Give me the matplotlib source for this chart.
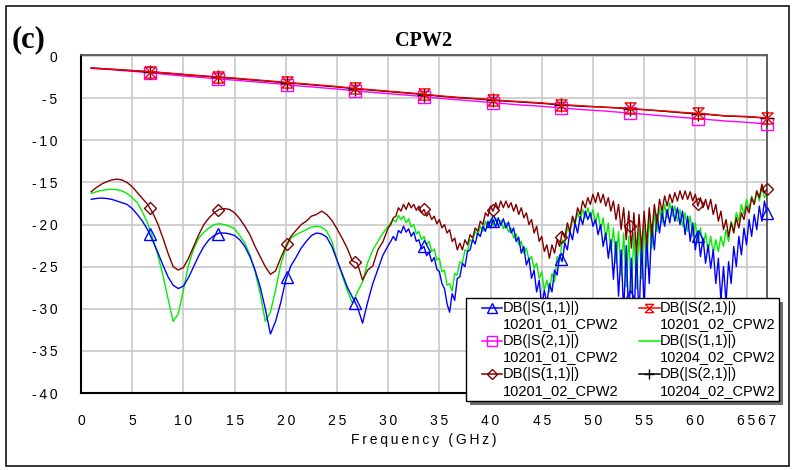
import numpy as np
import matplotlib
matplotlib.use("Agg")
import matplotlib.pyplot as plt
from matplotlib.lines import Line2D
from matplotlib.path import Path
from matplotlib.legend_handler import HandlerBase
from matplotlib.patches import Rectangle

# ---------------- data ----------------
# S11 sweep: 0.5 GHz grid up to 30 GHz, 0.25 GHz grid above (noisy part)
freq_low_ghz = np.arange(1.0, 30.01, 0.5)       # 59 points
freq_high_ghz = np.arange(30.25, 67.001, 0.25)  # 148 points

s11_10201_01_low = [
    -17.0, -16.9, -16.85, -16.9, -17.0, -17.2, -17.4, -17.6, -18.1, -18.8,
    -19.6, -20.6, -21.9, -23.3, -24.8, -26.2, -27.2, -27.6, -27.3, -26.3,
    -25.0, -23.7, -22.6, -21.8, -21.3, -21.0, -21.0, -21.1, -21.3, -21.8,
    -22.6, -23.8, -25.4, -27.4, -30.0, -33.0, -31.5, -29.3, -26.6, -24.9,
    -23.9, -22.8, -22.0, -21.3, -21.0, -21.1, -21.5, -22.6, -24.2, -25.8,
    -27.4, -28.6, -29.8, -31.7, -29.2, -27.0, -25.3, -23.6, -22.5,
]
s11_10201_01_high = [
    -22.0, -21.4, -21.9, -20.7,  -21.0, -20.2, -20.9, -20.5,
    -21.4, -20.9, -22.0, -21.8,  -22.9, -22.6, -23.7, -23.3,
    -24.4, -23.9, -25.3, -25.6,  -27.0, -27.6, -29.4, -30.4,
    -28.2, -29.0, -26.4, -26.2,  -24.6, -25.0, -23.2, -23.0,
    -21.8, -22.3, -21.0, -21.4,  -20.2, -20.8, -19.6, -20.4,
    -19.4, -20.3, -19.2, -20.1,  -19.3, -20.4, -19.7, -21.0,
    -20.4, -22.0, -21.5, -23.4,  -22.6, -24.8, -24.0, -26.4,
    -25.4, -28.0, -26.6, -29.8,  -27.8, -29.4, -27.0, -28.0,
    -25.4, -26.0, -23.6, -24.4,  -22.2, -23.0, -20.8, -21.8,
    -19.8, -21.0, -19.0, -20.0,  -18.4, -19.4, -18.6, -20.2,
    -19.4, -21.2, -20.0, -22.6,  -21.0, -24.0, -21.8, -26.5,
    -22.0, -28.5, -23.0, -30.5,  -22.5, -31.5, -24.0, -32.0,
    -23.0, -31.5, -22.0, -30.0,  -21.5, -27.0, -20.0, -23.0,
    -18.8, -21.0, -18.5, -20.2,  -18.2, -19.8, -17.8, -19.6,
    -18.0, -20.0, -18.4, -21.2,  -19.0, -22.0, -19.8, -23.0,
    -20.8, -23.8, -21.6, -24.6,  -22.4, -25.2, -23.0, -27.0,
    -24.0, -29.0, -25.0, -29.2,  -24.4, -27.0, -22.6, -25.0,
    -21.4, -23.6, -20.4, -22.4,  -19.4, -21.4, -18.8, -20.6,
    -17.8, -19.6, -17.2, -18.6,
]

s11_10204_02_low = [
    -16.3, -16.1, -15.95, -15.85, -15.8, -15.85, -16.0, -16.3, -16.8, -17.4,
    -18.5, -19.8, -21.6, -23.6, -26.0, -28.8, -31.5, -30.6, -27.8, -24.8,
    -22.9, -21.6, -20.9, -20.4, -20.0, -19.9, -20.0, -20.2, -20.5, -21.3,
    -22.2, -23.6, -25.6, -28.2, -31.5, -30.4, -27.8, -24.8, -22.8, -21.6,
    -21.2, -20.9, -20.6, -20.3, -20.2, -20.3, -20.8, -22.0, -24.2, -26.0,
    -27.8, -29.3, -28.0, -26.8, -24.5, -23.0, -22.0, -21.0, -20.2,
]
s11_10204_02_high = [
    -19.8, -19.4, -19.7, -18.9,  -19.4, -19.0, -19.8, -19.3,
    -20.3, -20.0, -21.1, -20.8,  -21.8, -21.4, -22.4, -22.0,
    -23.2, -22.9, -24.2, -24.0,  -25.6, -25.4, -27.2, -27.0,
    -27.9, -25.8, -26.0, -24.4,  -24.6, -23.0, -23.2, -21.8,
    -22.0, -20.8, -21.3, -20.2,  -20.8, -19.6, -20.4, -19.4,
    -20.2, -19.2, -20.1, -19.5,  -20.5, -19.8, -20.9, -20.4,
    -21.6, -21.1, -22.4, -22.0,  -23.4, -22.8, -24.2, -23.8,
    -25.2, -24.6, -26.4, -25.6,  -27.8, -26.6, -28.0, -25.8,
    -26.8, -23.8, -24.4, -21.8,  -22.4, -20.4, -21.0, -19.4,
    -20.0, -18.6, -19.5, -18.2,  -19.2, -18.0, -19.2, -18.2,
    -19.8, -18.6, -20.6, -19.2,  -21.8, -19.8, -23.2, -20.4,
    -24.6, -20.8, -26.0, -21.0,  -27.4, -21.4, -28.0, -21.0,
    -27.6, -20.6, -26.4, -20.0,  -25.0, -19.2, -22.8, -18.6,
    -20.8, -18.0, -19.8, -17.6,  -19.2, -17.4, -19.0, -17.8,
    -19.6, -18.2, -20.2, -18.6,  -20.8, -19.0, -21.4, -19.8,
    -22.0, -20.4, -22.6, -21.0,  -23.2, -21.4, -23.4, -21.8,
    -23.2, -21.4, -22.6, -20.6,  -22.0, -19.6, -20.8, -18.6,
    -19.6, -17.6, -18.8, -17.0,  -18.2, -16.6, -17.6, -16.0,
    -17.2, -15.6, -16.8, -16.4,
]

s11_10201_02_low = [
    -16.1, -15.6, -15.2, -14.9, -14.7, -14.6, -14.7, -15.0, -15.5, -16.2,
    -16.9, -17.6, -18.6, -19.9, -21.6, -23.4, -25.0, -25.4, -25.1, -24.0,
    -22.6, -21.2, -20.0, -19.2, -18.6, -18.2, -18.1, -18.2, -18.6, -19.3,
    -20.2, -21.2, -22.6, -23.8, -25.0, -25.9, -25.5, -24.0, -22.6, -21.4,
    -20.7, -20.0, -19.6, -19.0, -18.8, -18.4, -18.8, -19.5, -20.5, -21.6,
    -22.8, -24.3, -24.6, -26.6, -25.4, -24.9, -23.0, -22.0, -20.4,
]
s11_10201_02_high = [
    -20.0, -19.2, -19.0, -18.0,  -18.4, -17.6, -18.2, -17.4,
    -18.0, -17.6, -18.3, -17.8,  -18.6, -18.2, -19.0, -18.6,
    -19.4, -19.0, -19.9, -19.4,  -20.4, -20.0, -21.0, -20.6,
    -22.0, -21.6, -23.0, -22.2,  -23.0, -21.8, -22.4, -21.2,
    -21.6, -20.4, -20.8, -19.6,  -20.0, -18.6, -19.0, -17.8,
    -18.4, -17.4, -18.2, -17.2,  -18.0, -17.2, -18.0, -17.4,
    -18.4, -17.6, -18.8, -18.0,  -19.2, -18.6, -20.0, -19.4,
    -21.0, -20.2, -22.0, -21.4,  -23.2, -22.4, -24.0, -22.4,
    -23.4, -21.8, -22.6, -20.8,  -21.6, -19.8, -20.8, -19.0,
    -19.8, -18.0, -18.8, -17.2,  -18.0, -16.8, -17.6, -16.4,
    -17.4, -16.2, -17.4, -16.4,  -17.8, -16.8, -18.4, -17.2,
    -19.4, -17.6, -20.6, -18.0,  -21.8, -18.4, -22.8, -18.6,
    -23.4, -18.8, -23.0, -18.4,  -22.4, -18.0, -21.2, -17.6,
    -19.8, -17.0, -18.4, -16.6,  -17.8, -16.4, -17.4, -16.2,
    -17.2, -16.0, -17.0, -16.0,  -17.0, -16.1, -17.2, -16.4,
    -17.8, -16.8, -18.0, -17.0,  -18.2, -17.0, -18.8, -17.6,
    -19.6, -18.4, -20.6, -19.4,  -21.4, -19.8, -21.0, -19.2,
    -20.4, -18.6, -19.4, -17.8,  -18.6, -16.8, -17.6, -16.0,
    -16.8, -15.2, -16.2, -15.8,
]

s21_freq_ghz = np.arange(1.0, 67.01, 2.0)       # S21 grid (34 points)

s21_10201_01 = [
    -1.45, -1.6, -1.8, -2.0, -2.25, -2.45, -2.65, -2.85, -3.05, -3.25,
    -3.5, -3.7, -3.9, -4.15, -4.35, -4.55, -4.75, -5.0, -5.2, -5.4,
    -5.6, -5.8, -5.95, -6.15, -6.35, -6.5, -6.7, -6.9, -7.1, -7.3,
    -7.5, -7.7, -7.85, -8.05,
]
s21_10201_02 = [
    -1.4, -1.55, -1.7, -1.85, -2.05, -2.25, -2.45, -2.6, -2.8, -3.0,
    -3.2, -3.4, -3.6, -3.85, -4.05, -4.25, -4.45, -4.7, -4.9, -5.05,
    -5.25, -5.4, -5.55, -5.75, -5.9, -6.05, -6.15, -6.35, -6.5, -6.7,
    -6.85, -7.1, -7.15, -7.35,
]
s21_10204_02 = [
    -1.4, -1.55, -1.72, -1.88, -2.08, -2.28, -2.45, -2.65, -2.85, -3.05,
    -3.25, -3.45, -3.65, -3.9, -4.1, -4.3, -4.5, -4.75, -4.95, -5.1,
    -5.3, -5.45, -5.6, -5.8, -5.95, -6.05, -6.2, -6.35, -6.55, -6.75,
    -6.9, -7.1, -7.2, -7.35,
]

marker_freq_ghz = [6.7, 13.4, 20.1, 26.8, 33.5, 40.2, 46.9, 53.6, 60.3, 67.0]

x_ticks = [0, 5, 10, 15, 20, 25, 30, 35, 40, 45, 50, 55, 60, 65, 67]
y_ticks = [0, -5, -10, -15, -20, -25, -30, -35, -40]

labels = {
    "s11_01": "DB(|S(1,1)|)\n10201_01_CPW2",
    "s21_01": "DB(|S(2,1)|)\n10201_01_CPW2",
    "s11_02": "DB(|S(1,1)|)\n10201_02_CPW2",
    "s21_02": "DB(|S(2,1)|)\n10201_02_CPW2",
    "s11_04": "DB(|S(1,1)|)\n10204_02_CPW2",
    "s21_04": "DB(|S(2,1)|)\n10204_02_CPW2",
}

freq_ghz = np.concatenate([freq_low_ghz, freq_high_ghz])
s11_10201_01 = np.concatenate([s11_10201_01_low, s11_10201_01_high])
s11_10204_02 = np.concatenate([s11_10204_02_low, s11_10204_02_high])
s11_10201_02 = np.concatenate([s11_10201_02_low, s11_10201_02_high])

# ---------------- styling ----------------
hourglass = Path([(-1, 1), (1, 1), (-1, -1), (1, -1), (-1, 1)],
                 [Path.MOVETO, Path.LINETO, Path.LINETO, Path.LINETO, Path.LINETO])

SANS = ["Liberation Sans", "DejaVu Sans"]
SERIF = ["Liberation Serif", "DejaVu Serif"]


def spaced(s):
    return "\u2009".join(s)


W, H = 793, 470
fig = plt.figure(figsize=(W / 100, H / 100), dpi=100)
ax = fig.add_axes([81 / W, 1 - 393 / H, (767 - 81) / W, (393 - 54.5) / H])

series = [
    # key, x, y, color, marker, ms, zorder
    ("s11_04", freq_ghz, s11_10204_02, "#00ee00", None, 0, 2),
    ("s11_01", freq_ghz, s11_10201_01, "#0000ff", "^", 9, 3),
    ("s11_02", freq_ghz, s11_10201_02, "#800000", "D", 6.5, 4),
    ("s21_01", s21_freq_ghz, s21_10201_01, "#ff00ff", "s", 9, 5),
    ("s21_04", s21_freq_ghz, s21_10204_02, "#000000", "+", 10, 6),
    ("s21_02", s21_freq_ghz, s21_10201_02, "#ff0000", hourglass, 8, 7),
]

handles = {}
for key, x, y, col, mk, ms, z in series:
    y = np.asarray(y, dtype=float)
    ax.plot(x, y, color=col, lw=1.0, zorder=z)
    if mk is not None:
        my = np.interp(marker_freq_ghz, x, y)
        ax.plot(marker_freq_ghz, my, linestyle="none", marker=mk, ms=ms,
                mfc="none", mec=col, mew=1.0, zorder=z + 0.5, clip_on=False)
    handles[key] = Line2D([], [], color=col, lw=1.1,
                          marker=(mk if mk is not None else "None"),
                          ms=ms * 0.75, mfc="none", mec=col, mew=1.0)

ax.set_xlim(0, 67)
ax.set_ylim(-40, 0.2)
ax.set_xticks(x_ticks, labels=[spaced(str(t)) for t in x_ticks])
ax.set_yticks(y_ticks, labels=[spaced(str(t)) for t in y_ticks])
ax.tick_params(axis="both", length=0, labelsize=10)
ax.tick_params(axis="y", pad=17)
ax.tick_params(axis="x", pad=15)
for lab in ax.get_xticklabels() + ax.get_yticklabels():
    lab.set_family(SANS)
ax.grid(True, color="#c8c8c8", lw=1.2)
ax.set_axisbelow(True)
for side in ("left", "bottom"):
    ax.spines[side].set_color("black")
    ax.spines[side].set_linewidth(1.5)
for side in ("top", "right"):
    ax.spines[side].set_color("#555555")
    ax.spines[side].set_linewidth(1.3)

ax.set_xlabel(spaced("Frequency (GHz)"), family=SANS, fontsize=10)
ax.xaxis.set_label_coords(0.5, -0.118)
ax.xaxis.label.set_va("top")


class TopAlignedHandler(HandlerBase):
    def create_artists(self, legend, orig_handle, xdescent, ydescent,
                       width, height, fontsize, trans):
        y = (height - ydescent) / 2.0 + 0.6 * fontsize
        x0 = -xdescent + 0.85 * fontsize
        x1 = width - xdescent
        ln = Line2D([x0, x1], [y, y], color=orig_handle.get_color(),
                    lw=orig_handle.get_linewidth())
        mk = Line2D([(x0 + x1) / 2], [y], linestyle="none",
                    marker=orig_handle.get_marker(),
                    ms=orig_handle.get_markersize(), mfc="none",
                    mec=orig_handle.get_color(),
                    mew=orig_handle.get_markeredgewidth())
        ln.set_transform(trans)
        mk.set_transform(trans)
        return [ln, mk]


order = ["s11_01", "s21_01", "s11_02", "s21_02", "s11_04", "s21_04"]
leg = fig.legend([handles[k] for k in order], [labels[k] for k in order],
                 loc="upper left", bbox_to_anchor=(466 / W, 1 - 297.5 / H),
                 bbox_transform=fig.transFigure, ncol=2,
                 frameon=True, fancybox=False, edgecolor="black", framealpha=1,
                 borderpad=0.25, borderaxespad=0, handlelength=2.25,
                 handletextpad=0.0, columnspacing=0.6, labelspacing=0.2,
                 prop={"family": SANS, "size": 10.5},
                 handler_map={Line2D: TopAlignedHandler()},
                 shadow={"ox": 3, "oy": -3, "facecolor": "#6e6e6e",
                         "edgecolor": "none", "alpha": 1})
leg.get_frame().set_linewidth(1.0)

# titles / panel tag
fig.text(424 / W, 1 - 46 / H, "CPW2", family=SERIF, weight="bold",
         size=14.5, ha="center", va="baseline")
fig.text(11.7 / W, 1 - 47 / H, "(c)", family=SERIF, weight="bold",
         size=22, ha="left", va="baseline")

# outer frame
fig.add_artist(Rectangle((5.5 / W, 1 - 465.5 / H), 783 / W, 460 / H,
                         transform=fig.transFigure, fill=False,
                         edgecolor="black", lw=1.1))

fig.savefig("out.png", dpi=100)
